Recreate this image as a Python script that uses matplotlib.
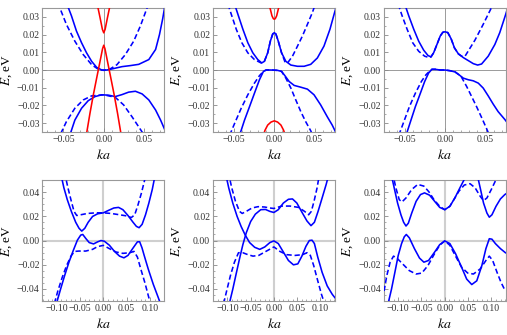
import numpy as np
import matplotlib.pyplot as plt
from matplotlib.ticker import MultipleLocator, FuncFormatter

plt.rcParams['font.family'] = ['Liberation Serif', 'DejaVu Serif']
plt.rcParams['mathtext.fontset'] = 'stix'

# ---- data: (ka, E) points ----
# panel 1
p1_solid_cb = [(-0.0463, 0.0381), (-0.0400, 0.0306), (-0.0338, 0.0220), (-0.0275, 0.0154), (-0.0213, 0.0097),
               (-0.0150, 0.0049), (-0.0088, 0.0015), (-0.0025, 0.0000), (0.0038, 0.0000), (0.0120, 0.0008),
               (0.0225, 0.0019), (0.0330, 0.0025), (0.0433, 0.0032), (0.0558, 0.0059), (0.0642, 0.0116),
               (0.0690, 0.0200), (0.0730, 0.0290), (0.0760, 0.0370)]
p1_dash_cb = [(-0.0560, 0.0380), (-0.0546, 0.0353), (-0.0463, 0.0258), (-0.0358, 0.0163), (-0.0254, 0.0087),
              (-0.0150, 0.0030), (-0.0067, 0.0004), (0.0000, -0.0002), (0.0079, 0.0006), (0.0163, 0.0030),
              (0.0267, 0.0087), (0.0371, 0.0163), (0.0454, 0.0249), (0.0538, 0.0353), (0.0550, 0.0380)]
p1_solid_vb = [(-0.0420, -0.0368), (-0.0358, -0.0283), (-0.0275, -0.0216), (-0.0192, -0.0173), (-0.0108, -0.0150),
               (-0.0025, -0.0140), (0.0058, -0.0142), (0.0142, -0.0150), (0.0225, -0.0139), (0.0308, -0.0125),
               (0.0392, -0.0120), (0.0475, -0.0135), (0.0558, -0.0169), (0.0642, -0.0226), (0.0704, -0.0283),
               (0.0767, -0.0349)]
p1_dash_vb = [(-0.0533, -0.0359), (-0.0463, -0.0292), (-0.0358, -0.0216), (-0.0254, -0.0169), (-0.0150, -0.0146),
              (0.0000, -0.0140), (0.0142, -0.0154), (0.0246, -0.0197), (0.0350, -0.0264), (0.0433, -0.0321),
              (0.0488, -0.0359)]
p1_red_cb = [(-0.0085, 0.0381), (-0.0046, 0.0296), (-0.0017, 0.0230), (0.0000, 0.0210), (0.0017, 0.0230),
             (0.0046, 0.0296), (0.0085, 0.0381)]
p1_red_vb = [(-0.0215, -0.0365), (-0.0171, -0.0245), (-0.0129, -0.0140), (-0.0088, -0.0046), (-0.0046, 0.0049),
             (-0.0015, 0.0120), (0.0000, 0.0140), (0.0015, 0.0120), (0.0046, 0.0049), (0.0088, -0.0046),
             (0.0129, -0.0140), (0.0171, -0.0245), (0.0215, -0.0365)]

# panel 2
p2_solid_cb = [(-0.0492, 0.0372), (-0.0451, 0.0315), (-0.0389, 0.0230), (-0.0328, 0.0154), (-0.0266, 0.0097),
               (-0.0205, 0.0059), (-0.0156, 0.0040), (-0.0123, 0.0049), (-0.0082, 0.0097), (-0.0049, 0.0163),
               (-0.0020, 0.0203), (0.0000, 0.0211), (0.0020, 0.0203), (0.0049, 0.0163), (0.0090, 0.0097),
               (0.0143, 0.0049), (0.0205, 0.0028), (0.0287, 0.0021), (0.0369, 0.0021), (0.0451, 0.0032),
               (0.0533, 0.0068), (0.0615, 0.0135), (0.0689, 0.0230), (0.0746, 0.0324), (0.0770, 0.0362)]
p2_dash_cb = [(-0.0574, 0.0372), (-0.0533, 0.0315), (-0.0471, 0.0230), (-0.0402, 0.0154), (-0.0328, 0.0097),
              (-0.0246, 0.0059), (-0.0164, 0.0040), (-0.0123, 0.0049), (-0.0082, 0.0097), (-0.0049, 0.0163),
              (-0.0020, 0.0203), (0.0000, 0.0211), (0.0020, 0.0203), (0.0049, 0.0163), (0.0090, 0.0097),
              (0.0131, 0.0047), (0.0164, 0.0040), (0.0225, 0.0078), (0.0287, 0.0135), (0.0348, 0.0192),
              (0.0410, 0.0258), (0.0471, 0.0324), (0.0500, 0.0362)]
p2_solid_vb = [(-0.0430, -0.0368), (-0.0369, -0.0283), (-0.0307, -0.0207), (-0.0246, -0.0131), (-0.0184, -0.0055),
               (-0.0135, -0.0008), (-0.0102, 0.0000), (-0.0041, 0.0000), (0.0041, -0.0002), (0.0090, -0.0008),
               (0.0131, -0.0032), (0.0184, -0.0065), (0.0246, -0.0087), (0.0328, -0.0097), (0.0410, -0.0108),
               (0.0492, -0.0140), (0.0574, -0.0197), (0.0656, -0.0264), (0.0717, -0.0311), (0.0758, -0.0349)]
p2_dash_vb = [(-0.0553, -0.0368), (-0.0492, -0.0302), (-0.0410, -0.0216), (-0.0328, -0.0140), (-0.0246, -0.0074),
              (-0.0184, -0.0032), (-0.0135, -0.0008), (-0.0102, 0.0000), (-0.0041, 0.0000), (0.0041, -0.0002),
              (0.0090, -0.0008), (0.0143, -0.0046), (0.0205, -0.0102), (0.0266, -0.0169), (0.0328, -0.0235),
              (0.0389, -0.0292), (0.0451, -0.0343), (0.0484, -0.0378)]
p2_red_cb = [(-0.0074, 0.0381), (-0.0049, 0.0343), (-0.0029, 0.0306), (-0.0012, 0.0290), (0.0000, 0.0287),
             (0.0012, 0.0290), (0.0029, 0.0306), (0.0049, 0.0343), (0.0074, 0.0381)]
p2_red_vb = [(-0.0135, -0.0368), (-0.0115, -0.0340), (-0.0082, -0.0311), (-0.0041, -0.0294), (0.0000, -0.0287),
             (0.0041, -0.0294), (0.0082, -0.0311), (0.0115, -0.0340), (0.0135, -0.0368)]

# panel 3
p3_solid_cb = [(-0.0500, 0.0372), (-0.0451, 0.0306), (-0.0389, 0.0230), (-0.0328, 0.0163), (-0.0266, 0.0112),
               (-0.0213, 0.0082), (-0.0176, 0.0074), (-0.0143, 0.0097), (-0.0102, 0.0144), (-0.0061, 0.0192),
               (-0.0029, 0.0213), (0.0000, 0.0216), (0.0033, 0.0211), (0.0074, 0.0176), (0.0115, 0.0125),
               (0.0164, 0.0091), (0.0225, 0.0070), (0.0287, 0.0053), (0.0348, 0.0036), (0.0402, 0.0028),
               (0.0451, 0.0034), (0.0533, 0.0078), (0.0615, 0.0144), (0.0676, 0.0211), (0.0746, 0.0309),
               (0.0770, 0.0345)]
p3_dash_cb = [(-0.0582, 0.0372), (-0.0533, 0.0306), (-0.0471, 0.0230), (-0.0402, 0.0154), (-0.0328, 0.0106),
              (-0.0254, 0.0078), (-0.0197, 0.0070), (-0.0176, 0.0074), (-0.0143, 0.0097), (-0.0102, 0.0144),
              (-0.0061, 0.0192), (-0.0029, 0.0213), (0.0000, 0.0216), (0.0033, 0.0211), (0.0074, 0.0176),
              (0.0115, 0.0125), (0.0164, 0.0091), (0.0205, 0.0078), (0.0246, 0.0078), (0.0369, 0.0169),
              (0.0471, 0.0258), (0.0574, 0.0353), (0.0594, 0.0378)]
p3_solid_vb = [(-0.0484, -0.0368), (-0.0430, -0.0292), (-0.0369, -0.0207), (-0.0307, -0.0131), (-0.0254, -0.0065),
               (-0.0205, -0.0017), (-0.0164, 0.0004), (-0.0123, 0.0004), (-0.0061, 0.0000), (0.0000, 0.0000),
               (0.0061, -0.0004), (0.0123, -0.0011), (0.0172, -0.0027), (0.0225, -0.0046), (0.0287, -0.0055),
               (0.0348, -0.0061), (0.0410, -0.0074), (0.0471, -0.0102), (0.0533, -0.0146), (0.0594, -0.0192),
               (0.0656, -0.0235), (0.0738, -0.0279), (0.0770, -0.0298)]
p3_dash_vb = [(-0.0574, -0.0368), (-0.0512, -0.0292), (-0.0443, -0.0207), (-0.0369, -0.0131), (-0.0295, -0.0065),
              (-0.0238, -0.0027), (-0.0184, -0.0002), (-0.0164, 0.0004), (-0.0123, 0.0004), (-0.0061, 0.0000),
              (0.0000, 0.0000), (0.0061, -0.0004), (0.0123, -0.0011), (0.0172, -0.0027), (0.0197, -0.0036),
              (0.0266, -0.0093), (0.0328, -0.0150), (0.0389, -0.0207), (0.0451, -0.0268), (0.0512, -0.0330),
              (0.0541, -0.0362)]

# panel 4
p4_solid_cb = [(-0.0920, 0.0562), (-0.0848, 0.0436), (-0.0775, 0.0338), (-0.0688, 0.0241), (-0.0594, 0.0151),
               (-0.0522, 0.0101), (-0.0464, 0.0078), (-0.0399, 0.0101), (-0.0326, 0.0151), (-0.0232, 0.0199),
               (-0.0123, 0.0221), (0.0000, 0.0229), (0.0109, 0.0249), (0.0225, 0.0269), (0.0326, 0.0274),
               (0.0420, 0.0255), (0.0529, 0.0207), (0.0638, 0.0151), (0.0710, 0.0117), (0.0768, 0.0106),
               (0.0833, 0.0134), (0.0906, 0.0213), (0.0978, 0.0310), (0.1051, 0.0422), (0.1109, 0.0534)]
p4_dash_cb = [(-0.0833, 0.0562), (-0.0761, 0.0436), (-0.0688, 0.0324), (-0.0630, 0.0241), (-0.0572, 0.0207),
              (-0.0486, 0.0213), (-0.0341, 0.0224), (-0.0159, 0.0229), (0.0000, 0.0229), (0.0167, 0.0224),
              (0.0348, 0.0213), (0.0493, 0.0204), (0.0601, 0.0190), (0.0674, 0.0213), (0.0746, 0.0297),
              (0.0819, 0.0394), (0.0891, 0.0506), (0.0913, 0.0548)]
p4_solid_vb = [(-0.1007, -0.0520), (-0.0920, -0.0403), (-0.0833, -0.0291), (-0.0739, -0.0179), (-0.0645, -0.0081),
               (-0.0558, 0.0003), (-0.0486, 0.0045), (-0.0442, 0.0050), (-0.0377, 0.0017), (-0.0304, -0.0017),
               (-0.0210, -0.0028), (-0.0123, -0.0011), (-0.0051, 0.0000), (0.0022, -0.0006), (0.0130, -0.0039),
               (0.0239, -0.0090), (0.0348, -0.0129), (0.0442, -0.0143), (0.0529, -0.0123), (0.0638, -0.0062),
               (0.0732, -0.0011), (0.0780, -0.0010), (0.0830, -0.0060), (0.0877, -0.0123), (0.0964, -0.0235),
               (0.1072, -0.0361), (0.1181, -0.0473), (0.1225, -0.0520)]
p4_dash_vb = [(-0.1051, -0.0520), (-0.0978, -0.0417), (-0.0884, -0.0305), (-0.0790, -0.0207), (-0.0688, -0.0123),
              (-0.0616, -0.0090), (-0.0522, -0.0087), (-0.0377, -0.0087), (-0.0232, -0.0073), (-0.0123, -0.0050),
              (0.0000, -0.0040), (0.0130, -0.0067), (0.0275, -0.0095), (0.0420, -0.0106), (0.0565, -0.0101),
              (0.0659, -0.0090), (0.0732, -0.0137), (0.0804, -0.0235), (0.0891, -0.0347), (0.0978, -0.0473),
              (0.1014, -0.0520)]

# panel 5
p5_solid_a = [(-0.1043, 0.0562), (-0.0971, 0.0436), (-0.0884, 0.0310), (-0.0790, 0.0199), (-0.0703, 0.0115),
              (-0.0616, 0.0045), (-0.0522, -0.0017), (-0.0413, -0.0056), (-0.0304, -0.0073), (-0.0196, -0.0053),
              (-0.0087, -0.0017), (0.0000, -0.0003), (0.0094, -0.0025), (0.0203, -0.0095), (0.0312, -0.0165),
              (0.0420, -0.0201), (0.0514, -0.0193), (0.0601, -0.0129), (0.0688, -0.0048), (0.0761, 0.0000),
              (0.0819, 0.0003), (0.0870, -0.0025), (0.0942, -0.0137), (0.1036, -0.0263), (0.1145, -0.0375),
              (0.1254, -0.0445), (0.1340, -0.0487)]
p5_solid_b = [(-0.0957, -0.0520), (-0.0884, -0.0403), (-0.0812, -0.0277), (-0.0739, -0.0151), (-0.0667, -0.0034),
              (-0.0594, 0.0064), (-0.0500, 0.0157), (-0.0399, 0.0218), (-0.0283, 0.0255), (-0.0181, 0.0257),
              (-0.0087, 0.0241), (0.0000, 0.0232), (0.0094, 0.0255), (0.0203, 0.0310), (0.0312, 0.0341),
              (0.0399, 0.0344), (0.0493, 0.0310), (0.0601, 0.0235), (0.0710, 0.0162), (0.0797, 0.0123),
              (0.0870, 0.0151), (0.0949, 0.0241), (0.1036, 0.0352), (0.1123, 0.0464), (0.1181, 0.0548)]
p5_dash_cb = [(-0.0978, 0.0562), (-0.0906, 0.0436), (-0.0826, 0.0324), (-0.0739, 0.0241), (-0.0681, 0.0224),
              (-0.0594, 0.0241), (-0.0471, 0.0269), (-0.0341, 0.0280), (-0.0196, 0.0277), (-0.0087, 0.0269),
              (0.0000, 0.0265), (0.0167, 0.0285), (0.0348, 0.0285), (0.0529, 0.0274), (0.0659, 0.0241),
              (0.0746, 0.0213), (0.0804, 0.0241), (0.0862, 0.0324), (0.0928, 0.0436), (0.0978, 0.0548)]
p5_dash_vb = [(-0.1080, -0.0520), (-0.1007, -0.0403), (-0.0935, -0.0291), (-0.0848, -0.0179), (-0.0761, -0.0101),
              (-0.0667, -0.0101), (-0.0558, -0.0117), (-0.0449, -0.0129), (-0.0326, -0.0123), (-0.0196, -0.0095),
              (0.0000, -0.0053), (0.0130, -0.0090), (0.0275, -0.0117), (0.0457, -0.0123), (0.0616, -0.0117),
              (0.0710, -0.0101), (0.0783, -0.0123), (0.0855, -0.0207), (0.0942, -0.0333), (0.1022, -0.0445),
              (0.1087, -0.0520)]

# panel 6
p6_solid_cb = [(-0.1159, 0.0562), (-0.1087, 0.0436), (-0.1014, 0.0310), (-0.0942, 0.0213), (-0.0884, 0.0151),
               (-0.0833, 0.0120), (-0.0783, 0.0143), (-0.0710, 0.0227), (-0.0616, 0.0324), (-0.0522, 0.0380),
               (-0.0435, 0.0394), (-0.0326, 0.0375), (-0.0217, 0.0324), (-0.0109, 0.0274), (0.0000, 0.0255),
               (0.0109, 0.0283), (0.0217, 0.0352), (0.0326, 0.0436), (0.0420, 0.0506), (0.0500, 0.0560),
               (0.0594, 0.0590), (0.0688, 0.0560), (0.0761, 0.0436), (0.0833, 0.0310), (0.0906, 0.0227),
               (0.0957, 0.0193), (0.1014, 0.0213), (0.1101, 0.0283), (0.1196, 0.0344), (0.1290, 0.0380),
               (0.1350, 0.0395)]
p6_solid_vb = [(-0.1217, -0.0520), (-0.1145, -0.0403), (-0.1072, -0.0263), (-0.1000, -0.0123), (-0.0928, -0.0025),
               (-0.0870, 0.0031), (-0.0826, 0.0050), (-0.0761, 0.0022), (-0.0652, -0.0067), (-0.0543, -0.0145),
               (-0.0449, -0.0179), (-0.0348, -0.0165), (-0.0217, -0.0095), (-0.0109, -0.0034), (0.0000, -0.0003),
               (0.0109, -0.0025), (0.0232, -0.0109), (0.0362, -0.0221), (0.0471, -0.0319), (0.0580, -0.0364),
               (0.0688, -0.0333), (0.0797, -0.0207), (0.0884, -0.0067), (0.0957, 0.0015), (0.1014, 0.0011),
               (0.1087, -0.0025), (0.1196, -0.0067), (0.1304, -0.0101)]
p6_dash_cb = [(-0.1123, 0.0562), (-0.1051, 0.0436), (-0.0978, 0.0338), (-0.0920, 0.0319), (-0.0833, 0.0352),
              (-0.0710, 0.0422), (-0.0580, 0.0464), (-0.0449, 0.0450), (-0.0341, 0.0403), (-0.0232, 0.0338),
              (-0.0109, 0.0283), (0.0000, 0.0255), (0.0109, 0.0283), (0.0217, 0.0352), (0.0304, 0.0408),
              (0.0420, 0.0459), (0.0543, 0.0470), (0.0652, 0.0436), (0.0761, 0.0366), (0.0833, 0.0330),
              (0.0906, 0.0352), (0.1000, 0.0422), (0.1087, 0.0492), (0.1145, 0.0548)]
p6_dash_vb = [(-0.1304, -0.0417), (-0.1246, -0.0291), (-0.1174, -0.0179), (-0.1101, -0.0129), (-0.1029, -0.0145),
              (-0.0906, -0.0193), (-0.0761, -0.0249), (-0.0616, -0.0277), (-0.0493, -0.0269), (-0.0362, -0.0207),
              (-0.0232, -0.0117), (-0.0109, -0.0039), (0.0000, -0.0003), (0.0109, -0.0039), (0.0232, -0.0129),
              (0.0362, -0.0221), (0.0493, -0.0269), (0.0616, -0.0277), (0.0761, -0.0235), (0.0884, -0.0165),
              (0.0957, -0.0129), (0.1029, -0.0165), (0.1123, -0.0263), (0.1210, -0.0347), (0.1283, -0.0403)]

top_xticks = [-0.05, 0.0, 0.05]
top_yticks = [-0.03, -0.02, -0.01, 0.0, 0.01, 0.02, 0.03]
bot_xticks = [-0.10, -0.05, 0.0, 0.05, 0.10]
bot_yticks = [-0.04, -0.02, 0.0, 0.02, 0.04]

BLUE = '#0000ff'
RED = '#ff0000'


def fmt(v, pos):
    s = f'{v:.2f}'
    if s == '-0.00':
        s = '0.00'
    return s.replace('-', '\u2212')


def curve(ax, pts, color=BLUE, dashed=False):
    a = np.array(pts)
    ls = (0, (3.3, 1.8)) if dashed else '-'
    ax.plot(a[:, 0], a[:, 1], color=color, lw=1.15, ls=ls, zorder=3)


def setup(ax, top):
    if top:
        ax.set_xlim(-0.076, 0.075)
        ax.set_ylim(-0.035, 0.035)
        ax.set_xticks(top_xticks)
        ax.set_yticks(top_yticks)
        ax.xaxis.set_minor_locator(MultipleLocator(0.01))
        ax.yaxis.set_minor_locator(MultipleLocator(0.005))
        ax.axhline(0, color='#9a9a9a', lw=0.7, zorder=1)
        ax.axvline(0, color='#9a9a9a', lw=0.7, zorder=1)
    else:
        ax.set_xlim(-0.131, 0.131)
        ax.set_ylim(-0.05, 0.05)
        ax.set_xticks(bot_xticks)
        ax.set_yticks(bot_yticks)
        ax.xaxis.set_minor_locator(MultipleLocator(0.01))
        ax.yaxis.set_minor_locator(MultipleLocator(0.005))
        ax.axhline(0, color='#cfcfcf', lw=1.5, zorder=1)
        ax.axvline(0, color='#cfcfcf', lw=1.5, zorder=1)
    ax.xaxis.set_major_formatter(FuncFormatter(fmt))
    ax.yaxis.set_major_formatter(FuncFormatter(fmt))
    ax.tick_params(which='both', direction='in', color='#888888', labelsize=7,
                   labelcolor='#333333', pad=2)
    ax.tick_params(which='major', length=3, width=0.6)
    ax.tick_params(which='minor', length=1.6, width=0.5)
    for sp in ax.spines.values():
        sp.set_color('#999999')
        sp.set_linewidth(0.8)
    ax.set_xlabel('$ka$', fontsize=10, labelpad=3)
    ax.set_ylabel('$E$, eV', fontsize=9.5)
    ax.yaxis.set_label_coords(-0.235, 0.5)


fig = plt.figure(figsize=(5.07, 3.35), dpi=100)
lefts = [0.0836, 0.4200, 0.7570]
w = 0.2405

panels = [
    [(p1_dash_cb, BLUE, True), (p1_dash_vb, BLUE, True), (p1_solid_cb, BLUE, False), (p1_solid_vb, BLUE, False),
     (p1_red_cb, RED, False), (p1_red_vb, RED, False)],
    [(p2_dash_cb, BLUE, True), (p2_dash_vb, BLUE, True), (p2_solid_cb, BLUE, False), (p2_solid_vb, BLUE, False),
     (p2_red_cb, RED, False), (p2_red_vb, RED, False)],
    [(p3_dash_cb, BLUE, True), (p3_dash_vb, BLUE, True), (p3_solid_cb, BLUE, False), (p3_solid_vb, BLUE, False)],
    [(p4_dash_cb, BLUE, True), (p4_dash_vb, BLUE, True), (p4_solid_cb, BLUE, False), (p4_solid_vb, BLUE, False)],
    [(p5_dash_cb, BLUE, True), (p5_dash_vb, BLUE, True), (p5_solid_a, BLUE, False), (p5_solid_b, BLUE, False)],
    [(p6_dash_cb, BLUE, True), (p6_dash_vb, BLUE, True), (p6_solid_cb, BLUE, False), (p6_solid_vb, BLUE, False)],
]

for i, curves in enumerate(panels):
    top = i < 3
    if top:
        ax = fig.add_axes([lefts[i % 3], 0.606, w, 0.370])
    else:
        ax = fig.add_axes([lefts[i % 3], 0.1015, w, 0.361])
    setup(ax, top)
    for pts, c, d in curves:
        curve(ax, pts, c, d)

fig.savefig('out.png', dpi=100)
